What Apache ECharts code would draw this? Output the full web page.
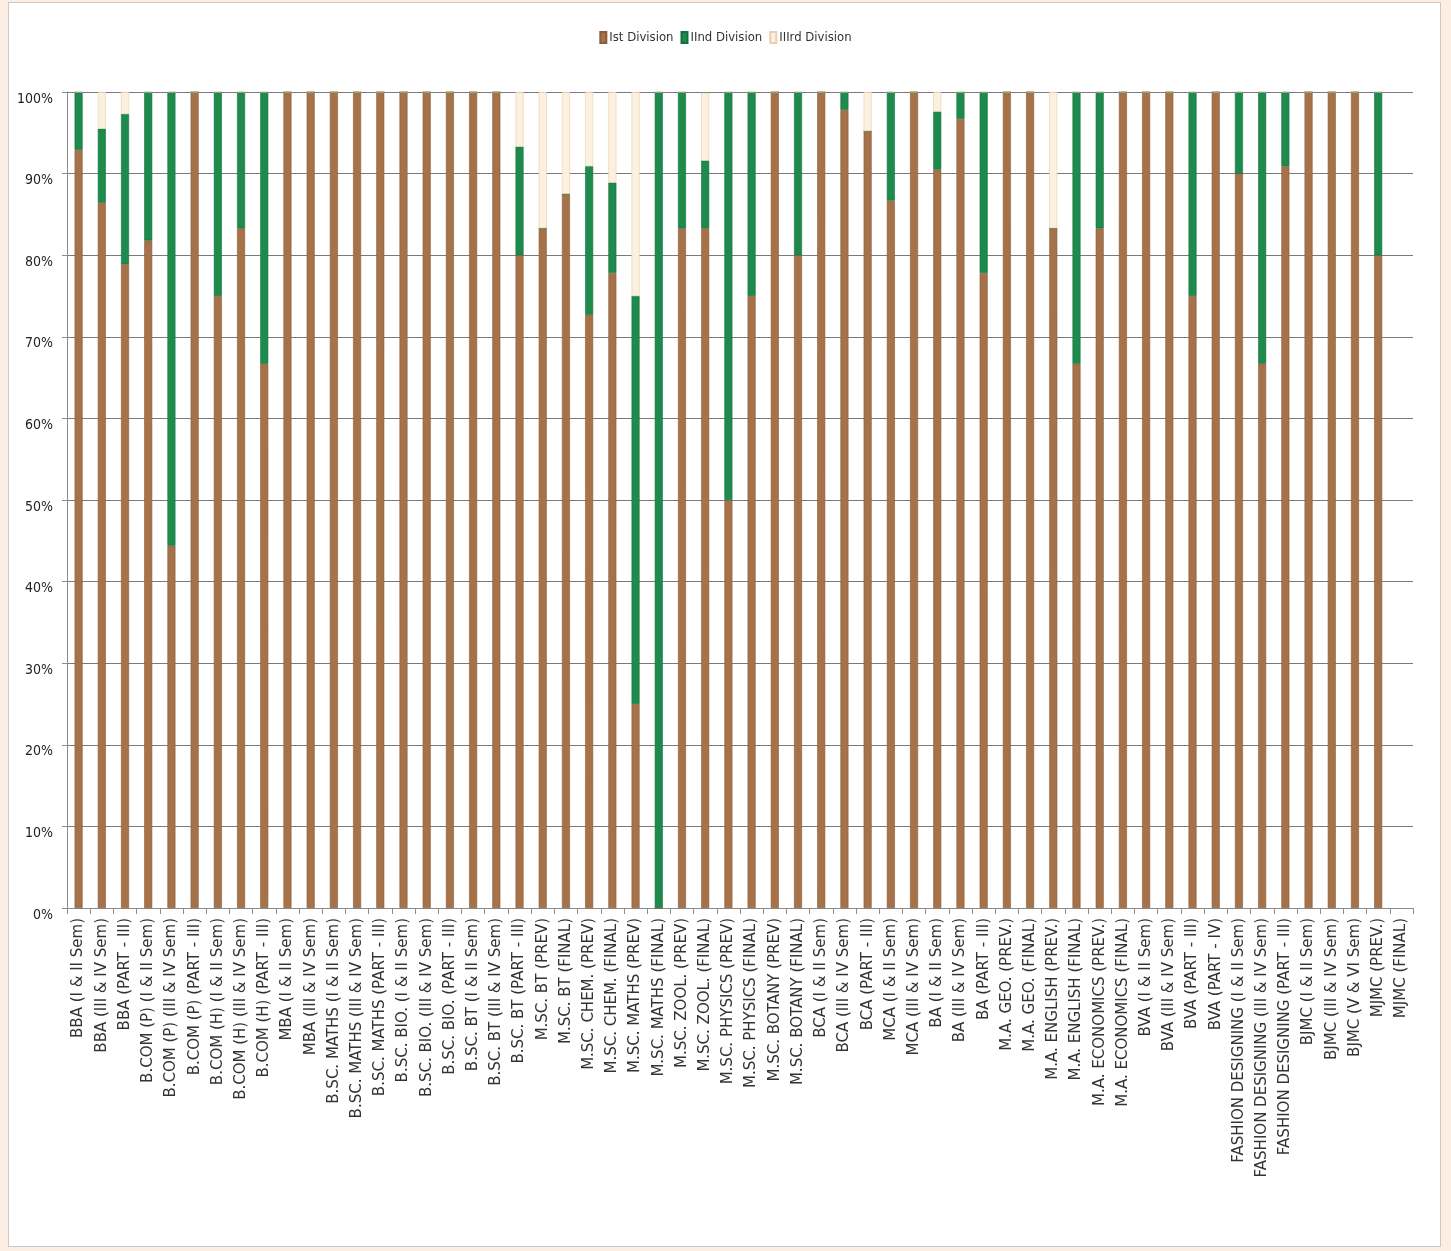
<!DOCTYPE html>
<html>
<head>
<meta charset="utf-8">
<script src="https://cdn.jsdelivr.net/npm/echarts@6/dist/echarts.min.js"></script>
<style>
html,body{margin:0;padding:0;background:#fdeee3;}
#frame{position:absolute;left:8px;top:2px;width:1431px;height:1243px;background:#ffffff;border:1px solid #c9c9c9;}
#c{position:absolute;left:0;top:0;width:1451px;height:1251px;}
</style>
</head>
<body>
<div id="frame"></div>
<div id="c"></div>
<script>
var categories = [
"BBA (I & II Sem)","BBA (III & IV Sem)","BBA (PART - III)",
"B.COM (P) (I & II Sem)","B.COM (P) (III & IV Sem)","B.COM (P) (PART - III)",
"B.COM (H) (I & II Sem)","B.COM (H) (III & IV Sem)","B.COM (H) (PART - III)",
"MBA (I & II Sem)","MBA (III & IV Sem)",
"B.SC. MATHS (I & II Sem)","B.SC. MATHS (III & IV Sem)","B.SC. MATHS (PART - III)",
"B.SC. BIO. (I & II Sem)","B.SC. BIO. (III & IV Sem)","B.SC. BIO. (PART - III)",
"B.SC. BT (I & II Sem)","B.SC. BT (III & IV Sem)","B.SC. BT (PART - III)",
"M.SC. BT (PREV)","M.SC. BT (FINAL)","M.SC. CHEM. (PREV)","M.SC. CHEM. (FINAL)",
"M.SC. MATHS (PREV)","M.SC. MATHS (FINAL)","M.SC. ZOOL. (PREV)","M.SC. ZOOL. (FINAL)",
"M.SC. PHYSICS (PREV)","M.SC. PHYSICS (FINAL)","M.SC. BOTANY (PREV)","M.SC. BOTANY (FINAL)",
"BCA (I & II Sem)","BCA (III & IV Sem)","BCA (PART - III)",
"MCA (I & II Sem)","MCA (III & IV Sem)",
"BA (I & II Sem)","BA (III & IV Sem)","BA (PART - III)",
"M.A. GEO. (PREV.)","M.A. GEO. (FINAL)","M.A. ENGLISH (PREV.)","M.A. ENGLISH (FINAL)",
"M.A. ECONOMICS (PREV.)","M.A. ECONOMICS (FINAL)",
"BVA (I & II Sem)","BVA (III & IV Sem)","BVA (PART - III)","BVA (PART - IV)",
"FASHION DESIGNING (I & II Sem)","FASHION DESIGNING (III & IV Sem)","FASHION DESIGNING (PART - III)",
"BJMC (I & II Sem)","BJMC (III & IV Sem)","BJMC (V & VI Sem)",
"MJMC (PREV.)","MJMC (FINAL)"
];
var seriesNames = ["Ist Division","IInd Division","IIIrd Division"];
var firstDiv = [92.9,86.4,78.9,81.8,44.4,100,75,83.3,66.7,100,100,100,100,100,100,100,100,100,100,80,
83.3,87.5,72.7,77.8,25,0,83.3,83.3,50,75,100,80,100,97.8,95.2,86.7,100,90.5,96.7,77.8,
100,100,83.3,66.7,83.3,100,100,100,75,100,90,66.7,90.9,100,100,100,80,null];
var secondDiv = [7.1,9.1,18.4,18.2,55.6,0,25,16.7,33.3,0,0,0,0,0,0,0,0,0,0,13.3,
0,0,18.2,11.1,50,100,16.7,8.3,50,25,0,20,0,2.2,0,13.3,0,7.1,3.3,22.2,
0,0,0,33.3,16.7,0,0,0,25,0,10,33.3,9.1,0,0,0,20,null];
var thirdDiv = [0,4.5,2.7,0,0,0,0,0,0,0,0,0,0,0,0,0,0,0,0,6.7,
16.7,12.5,9.1,11.1,25,0,0,8.3,0,0,0,0,0,0,4.8,0,0,2.4,0,0,
0,0,16.7,0,0,0,0,0,0,0,0,0,0,0,0,0,0,null];
var yTicks = {min:0,max:100,interval:10};

var chart = echarts.init(document.getElementById('c'), null, {renderer:'canvas'});
var colors = ['#a5724a','#1f8a4d','#fcf1de'];
var borders = ['#8a5c38','#16703c','#e6cfb3'];
var dataSets = [firstDiv, secondDiv, thirdDiv];
var narrow = 'Liberation Sans Narrow, DejaVu Sans Condensed, sans-serif';
chart.setOption({
  backgroundColor:'transparent',
  animation:false,
  legend:{
    top:26,left:'center',
    icon:'rect',
    itemWidth:6,itemHeight:11,itemGap:7,
    textStyle:{fontFamily:narrow,fontSize:13,color:'#333',padding:[0,0,0,-2]},
    data:seriesNames
  },
  grid:{left:67,right:38,top:92,bottom:343,containLabel:false},
  xAxis:{
    type:'category',data:categories,
    axisLine:{show:true,lineStyle:{color:'#8c8c8c',width:1}},
    axisTick:{show:true,length:6,lineStyle:{color:'#8c8c8c'}},
    axisLabel:{rotate:90,interval:0,margin:10,fontFamily:'DejaVu Sans, sans-serif',fontSize:15,color:'#333'}
  },
  yAxis:{
    type:'value',min:yTicks.min,max:yTicks.max,interval:yTicks.interval,
    axisLine:{show:true,lineStyle:{color:'#8c8c8c'}},
    axisTick:{show:true,length:5,lineStyle:{color:'#8c8c8c'}},
    splitLine:{show:true,lineStyle:{color:'#7a7a7a',width:1}},
    axisLabel:{formatter:'{value}%',margin:14,verticalAlign:'top',fontFamily:narrow,fontSize:14,color:'#222'}
  },
  series:seriesNames.map(function(n,i){
    return {name:n,type:'bar',stack:'total',barWidth:8,data:dataSets[i],
      itemStyle:{color:colors[i],borderColor:borders[i],borderWidth:0.6}};
  })
});
</script>
</body>
</html>
